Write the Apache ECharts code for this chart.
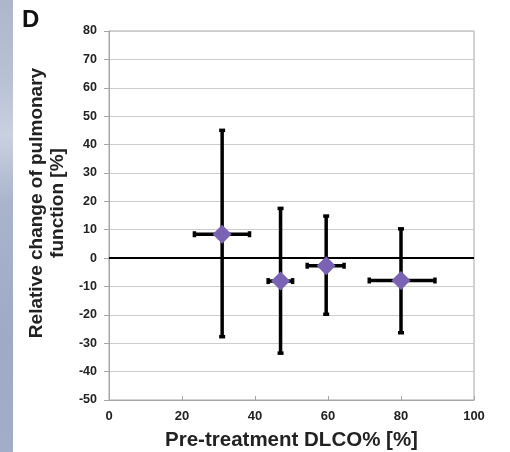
<!DOCTYPE html>
<html>
<head>
<meta charset="utf-8">
<script src="https://cdn.jsdelivr.net/npm/echarts@6/dist/echarts.min.js"></script>
<style>
  html, body { margin: 0; padding: 0; background: #ffffff; }
  #chart { width: 510px; height: 452px; }
</style>
</head>
<body>
<div id="chart"></div>
<script>
// Pre-treatment DLCO% groups: mean position with horizontal and vertical ranges
const dlcoMean  = [31, 47, 59.5, 80];
const dlcoLow   = [23.4, 43.6, 54.3, 71.3];
const dlcoHigh  = [38.5, 50.3, 64.4, 89.3];
const changeMean = [8.4, -8.1, -2.7, -7.9];
const changeLow  = [-27.7, -33.5, -19.8, -26.3];
const changeHigh = [45, 17.5, 14.8, 10.3];
const xTicks = [0, 20, 40, 60, 80, 100];
const yTicks = [-50, -40, -30, -20, -10, 0, 10, 20, 30, 40, 50, 60, 70, 80];
const baseline = 0;

const FONT = '"Liberation Sans", Arial, sans-serif';

const pointData = dlcoMean.map((x, i) => [x, changeMean[i]]);
const barData = dlcoMean.map((x, i) => [x, changeMean[i], dlcoLow[i], dlcoHigh[i], changeLow[i], changeHigh[i]]);

function renderErrorBars(params, api) {
  const x = api.value(0), y = api.value(1);
  const xl = api.value(2), xr = api.value(3);
  const yl = api.value(4), yh = api.value(5);
  const pl = api.coord([xl, y]);
  const pr = api.coord([xr, y]);
  const pb = api.coord([x, yl]);
  const pt = api.coord([x, yh]);
  const style = { stroke: '#000', lineWidth: 3.5, lineCap: 'butt' };
  const cap = 3;
  const line = (x1, y1, x2, y2) => ({ type: 'line', shape: { x1, y1, x2, y2 }, style });
  return {
    type: 'group',
    children: [
      line(pb[0], pb[1], pt[0], pt[1]),
      line(pl[0], pl[1], pr[0], pr[1]),
      line(pb[0] - cap, pb[1], pb[0] + cap, pb[1]),
      line(pt[0] - cap, pt[1], pt[0] + cap, pt[1]),
      line(pl[0], pl[1] - cap, pl[0], pl[1] + cap),
      line(pr[0], pr[1] - cap, pr[0], pr[1] + cap)
    ]
  };
}

const chart = echarts.init(document.getElementById('chart'), null, { renderer: 'canvas' });

chart.setOption({
  animation: false,
  backgroundColor: '#ffffff',
  grid: {
    left: 109, right: 36, top: 31, bottom: 52,
    outerBoundsMode: 'none',
    containLabel: false,
    show: true, borderColor: '#a6a6a6', borderWidth: 1, backgroundColor: 'transparent'
  },
  graphic: [
    {
      type: 'rect', left: 0, top: 0, z: -10,
      shape: { width: 13, height: 452 },
      style: {
        fill: new echarts.graphic.LinearGradient(0, 0, 0, 1, [
          { offset: 0, color: '#aeb6cb' },
          { offset: 0.18, color: '#b9c1d5' },
          { offset: 0.3, color: '#c9d0e0' },
          { offset: 0.45, color: '#a9b4cc' },
          { offset: 0.75, color: '#9eaac6' },
          { offset: 1, color: '#a2adc8' }
        ])
      }
    },
    {
      type: 'text', left: 22, top: 8,
      style: { text: 'D', font: 'bold 24px ' + FONT, fill: '#111' }
    },
    {
      type: 'text', x: 47, y: 203, rotation: Math.PI / 2,
      style: {
        text: 'Relative change of pulmonary\nfunction [%]',
        font: 'bold 19px ' + FONT, fill: '#222',
        align: 'center', verticalAlign: 'middle', lineHeight: 21
      }
    }
  ],
  xAxis: {
    type: 'value', min: 0, max: 100, interval: 20,
    name: 'Pre-treatment DLCO% [%]',
    nameLocation: 'middle', nameGap: 30,
    nameTextStyle: { fontFamily: FONT, fontWeight: 'bold', fontSize: 20.5, color: '#222' },
    axisLine: { show: true, onZero: false, lineStyle: { color: '#a6a6a6', width: 1 } },
    axisTick: { show: true, inside: true, length: 4, lineStyle: { color: '#a6a6a6' } },
    axisLabel: {
      margin: 10, fontFamily: FONT, fontWeight: 'bold', fontSize: 13, color: '#222',
      formatter: v => (xTicks.includes(v) ? String(v) : '')
    },
    splitLine: { show: false }
  },
  yAxis: {
    type: 'value', min: -50, max: 80, interval: 10,
    axisLine: { show: true, onZero: false, lineStyle: { color: '#a6a6a6', width: 1 } },
    axisTick: { show: true, inside: false, length: 5, lineStyle: { color: '#a6a6a6' } },
    axisLabel: {
      margin: 12, fontFamily: FONT, fontWeight: 'bold', fontSize: 12.5, color: '#222',
      formatter: v => (yTicks.includes(v) ? String(v) : '')
    },
    splitLine: { show: true, lineStyle: { color: '#cdcdcd', width: 1 } }
  },
  series: [
    {
      type: 'custom',
      renderItem: renderErrorBars,
      data: barData,
      encode: { x: [0, 2, 3], y: [1, 4, 5] },
      silent: true,
      z: 3,
      markLine: {
        silent: true,
        symbol: ['none', 'none'],
        label: { show: false },
        lineStyle: { color: '#000', width: 2, type: 'solid' },
        data: [{ yAxis: baseline }]
      }
    },
    {
      type: 'scatter',
      symbol: 'diamond',
      symbolSize: [19, 19],
      data: pointData,
      itemStyle: { color: '#7a63b2', opacity: 1 },
      z: 5,
      silent: true
    }
  ]
});
</script>
</body>
</html>
